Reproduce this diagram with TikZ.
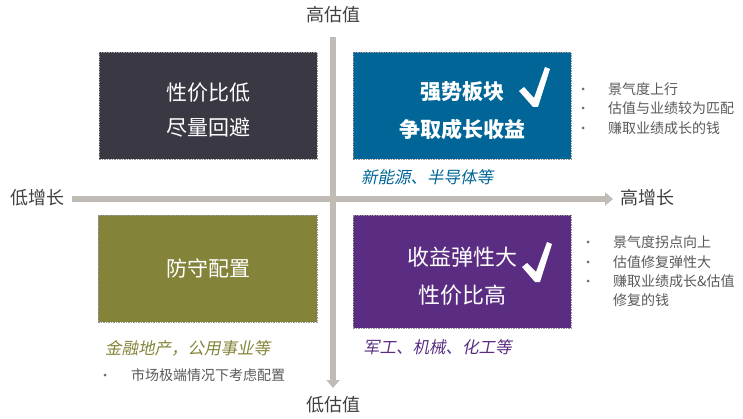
\documentclass[tikz,border=0pt]{standalone}
\usepackage{fontspec}
\setmainfont{Noto Sans CJK SC}
\newfontfamily\cjkit{Noto Sans CJK SC}[FakeSlant=0.2]
\usetikzlibrary{arrows.meta}
\definecolor{axisgray}{HTML}{C0BCB5}
\definecolor{boxdark}{HTML}{393843}
\definecolor{boxblue}{HTML}{016697}
\definecolor{boxolive}{HTML}{838439}
\definecolor{boxpurple}{HTML}{5A2D82}
\definecolor{labeltext}{HTML}{404040}
\definecolor{bullettext}{HTML}{595959}
\tikzset{
  quad/.style={draw=gray!80, dash pattern=on 1.5pt off 1pt, line width=0.5pt, inner sep=0pt, minimum width=218pt},
  boxtext/.style={text=white, font=\fontsize{21}{21}\selectfont, inner sep=0pt},
  axislabel/.style={text=labeltext, font=\fontsize{18}{18}\selectfont, inner sep=0pt},
  bullettxt/.style={text=bullettext, font=\fontsize{14}{14}\selectfont, inner sep=0pt, anchor=west},
  bulletdot/.style={circle, fill=bullettext!90, draw=none, inner sep=0pt, minimum size=3pt},
  sector/.style={font=\cjkit\fontsize{16.5}{16.5}\selectfont, inner sep=0pt, anchor=west},
  axisline/.style={draw=axisgray, line width=6.5pt, -{Triangle[length=8pt,width=13pt]}},
  checkmark/.style={fill=white, draw=none}
}
\begin{document}
\begin{tikzpicture}[x=1pt,y=-1pt]
\useasboundingbox (0,0) rectangle (743,419);
% axes
\coordinate (hstart) at (72,199);
\coordinate (hend) at (613,199);
\coordinate (vstart) at (333,37);
\coordinate (vend) at (333,388);
\draw[axisline] (hstart) -- (hend);
\draw[axisline] (vstart) -- (vend);
% axis labels
\node[axislabel] (hival) at (333,15) {高估值};
\node[axislabel] (loval) at (333,405) {低估值};
\node[axislabel] (logr) at (37,198) {低增长};
\node[axislabel] (higr) at (647,198) {高增长};
% boxes
\node[quad, fill=boxdark, minimum height=107pt] (q1) at (208,105.5) {};
\node[quad, fill=boxblue, minimum height=107pt] (q2) at (462,105.5) {};
\node[quad, fill=boxolive, minimum height=107pt, minimum width=219pt] (q3) at (207.5,268.5) {};
\node[quad, fill=boxpurple, minimum height=113pt] (q4) at (462,271.5) {};
% box texts
\node[boxtext] (q1a) at (208,93) {性价比低};
\node[boxtext] (q1b) at (208,128) {尽量回避};
\node[boxtext, font=\fontsize{21}{21}\selectfont\bfseries] (q2a) at (462,92) {强势板块};
\node[boxtext, font=\fontsize{21}{21}\selectfont\bfseries] (q2b) at (462,130) {争取成长收益};
\node[boxtext] (q3a) at (208,268) {防守配置};
\node[boxtext, font=\fontsize{22}{22}\selectfont] (q4a) at (462,257) {收益弹性大};
\node[boxtext, font=\fontsize{22}{22}\selectfont] (q4b) at (462,295) {性价比高};
% check marks
\fill[checkmark] (519,91) -- (524,87) -- (534,98) -- (545,67) -- (550,69) -- (538,107) -- (533,107) -- cycle;
\fill[checkmark] (522,267) -- (527,263) -- (536,272) -- (547,242) -- (552,244) -- (540,282) -- (535,282) -- cycle;
% sector labels
\node[sector, text=boxblue] (s2) at (361,177) {新能源、半导体等};
\node[sector, text=boxpurple] (s4) at (363,347) {军工、机械、化工等};
\node[sector, text=boxolive] (s3) at (105,348) {金融地产，公用事业等};
% bullets top right
\node[bulletdot] (b1d) at (583,89) {};
\node[bullettxt] (b1) at (608,89) {景气度上行};
\node[bulletdot] (b2d) at (583,108) {};
\node[bullettxt] (b2) at (608,108) {估值与业绩较为匹配};
\node[bulletdot] (b3d) at (583,128) {};
\node[bullettxt] (b3) at (608,128) {赚取业绩成长的钱};
% bullets bottom right
\node[bulletdot] (c1d) at (588,242) {};
\node[bullettxt] (c1) at (613,242) {景气度拐点向上};
\node[bulletdot] (c2d) at (588,262) {};
\node[bullettxt] (c2) at (613,262) {估值修复弹性大};
\node[bulletdot] (c3d) at (588,281) {};
\node[bullettxt] (c3) at (613,281) {赚取业绩成长\&估值};
\node[bullettxt] (c4) at (613,300) {修复的钱};
% bullet bottom left
\node[bulletdot] (d1d) at (105,375) {};
\node[bullettxt] (d1) at (131,375) {市场极端情况下考虑配置};
\end{tikzpicture}
\end{document}
